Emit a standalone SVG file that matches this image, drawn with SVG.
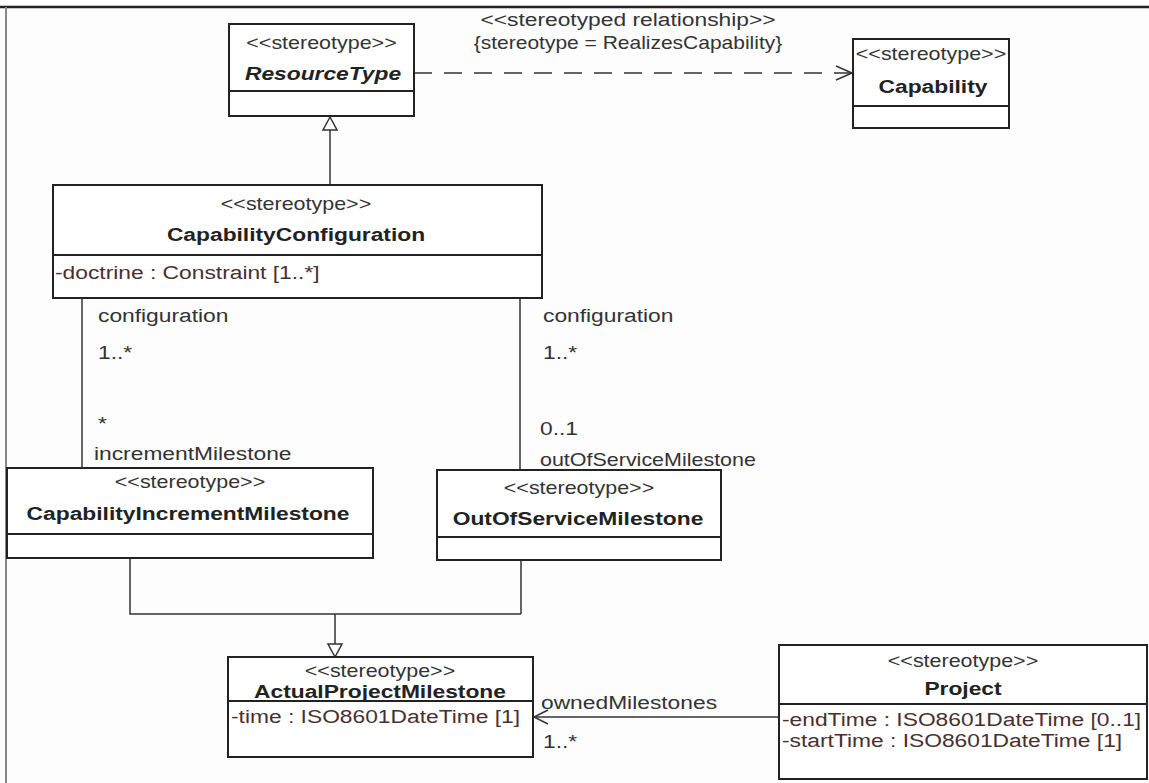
<svg xmlns="http://www.w3.org/2000/svg" width="1149" height="783" viewBox="0 0 1149 783">
<style>
.box{fill:#fff;stroke:#222;stroke-width:2}
.div{stroke:#222;stroke-width:2}
.ln{stroke:#333;stroke-width:1.5;fill:none}
.dash{stroke:#333;stroke-width:1.5;fill:none;stroke-dasharray:18 12}
.hd{fill:#fff;stroke:#333;stroke-width:1.5}
text{font-family:"Liberation Sans",Arial,sans-serif;font-size:19px}
.st{fill:#333;text-anchor:middle}
.nm{fill:#222;font-weight:bold;text-anchor:middle}
.at{fill:#4a2f2f;text-anchor:start}
.lb{fill:#333;text-anchor:start}
.sm{font-size:17.5px}
</style>
<rect x="0" y="0" width="1149" height="783" fill="#fdfdfd"/>
<line x1="0" y1="7" x2="1149" y2="7" stroke="#222" stroke-width="2.5"/>
<line x1="6" y1="7" x2="6" y2="783" stroke="#888" stroke-width="2"/>

<g id="connectors">
  <path class="dash" d="M414,73 H851"/>
  <path class="ln" d="M836,66 L852,73 L836,80"/>
  <text class="st" transform="matrix(1.2 0 0 1 628 26)" x="0" y="0">&lt;&lt;stereotyped relationship&gt;&gt;</text>
  <text class="st sm" transform="matrix(1.2 0 0 1 628 49)" x="0" y="0">{stereotype = RealizesCapability}</text>

  <path class="ln" d="M330,130 V185"/>
  <path class="hd" d="M330,117 L323,130 L337,130 Z"/>

  <path class="ln" d="M82,298 V468"/>
  <text class="lb" transform="matrix(1.2 0 0 1 98 322)" x="0" y="0">configuration</text>
  <text class="lb" transform="matrix(1.2 0 0 1 98 359)" x="0" y="0">1..*</text>
  <text class="lb" transform="matrix(1.2 0 0 1 98 430)" x="0" y="0">*</text>
  <text class="lb" transform="matrix(1.2 0 0 1 94 460)" x="0" y="0">incrementMilestone</text>

  <path class="ln" d="M520,298 V470"/>
  <text class="lb" transform="matrix(1.2 0 0 1 543 322)" x="0" y="0">configuration</text>
  <text class="lb" transform="matrix(1.2 0 0 1 543 359)" x="0" y="0">1..*</text>
  <text class="lb" transform="matrix(1.2 0 0 1 540 435)" x="0" y="0">0..1</text>
  <text class="lb" transform="matrix(1.13 0 0 1 540 466)" x="0" y="0">outOfServiceMilestone</text>

  <path class="ln" d="M130,558 V614 H521 M521,560 V614 M335,614 V644"/>
  <path class="hd" d="M335,657 L328,644 L342,644 Z"/>

  <path class="ln" d="M779,717 H534"/>
  <path class="ln" d="M548,710 L534,717 L548,724"/>
  <text class="lb" transform="matrix(1.2 0 0 1 541 709)" x="0" y="0">ownedMilestones</text>
  <text class="lb" transform="matrix(1.2 0 0 1 543 748)" x="0" y="0">1..*</text>
</g>

<g id="ResourceType">
  <rect class="box" x="229" y="24" width="185" height="92"/>
  <line class="div" x1="229" y1="91" x2="414" y2="91"/>
  <text class="st" transform="matrix(1.13 0 0 1 321.5 49)" x="0" y="0">&lt;&lt;stereotype&gt;&gt;</text>
  <text class="nm" font-style="italic" transform="matrix(1.2 0 0 1 323 80)" x="0" y="0">ResourceType</text>
</g>

<g id="Capability">
  <rect class="box" x="853" y="39" width="156" height="89"/>
  <line class="div" x1="853" y1="106" x2="1009" y2="106"/>
  <text class="st" transform="matrix(1.13 0 0 1 931 60)" x="0" y="0">&lt;&lt;stereotype&gt;&gt;</text>
  <text class="nm" transform="matrix(1.2 0 0 1 933 93)" x="0" y="0">Capability</text>
</g>

<g id="CapabilityConfiguration">
  <rect class="box" x="53" y="185" width="489" height="113"/>
  <line class="div" x1="53" y1="255" x2="542" y2="255"/>
  <text class="st" transform="matrix(1.13 0 0 1 296 210)" x="0" y="0">&lt;&lt;stereotype&gt;&gt;</text>
  <text class="nm" transform="matrix(1.2 0 0 1 296 241)" x="0" y="0">CapabilityConfiguration</text>
  <text class="at" transform="matrix(1.2 0 0 1 55 279)" x="0" y="0">-doctrine : Constraint [1..*]</text>
</g>

<g id="CapabilityIncrementMilestone">
  <rect class="box" x="7" y="468" width="366" height="90"/>
  <line class="div" x1="7" y1="534" x2="373" y2="534"/>
  <text class="st" transform="matrix(1.13 0 0 1 190 488)" x="0" y="0">&lt;&lt;stereotype&gt;&gt;</text>
  <text class="nm" transform="matrix(1.2 0 0 1 188 520)" x="0" y="0">CapabilityIncrementMilestone</text>
</g>

<g id="OutOfServiceMilestone">
  <rect class="box" x="437" y="470" width="284" height="90"/>
  <line class="div" x1="437" y1="537" x2="721" y2="537"/>
  <text class="st" transform="matrix(1.13 0 0 1 579 494)" x="0" y="0">&lt;&lt;stereotype&gt;&gt;</text>
  <text class="nm" transform="matrix(1.2 0 0 1 578 525)" x="0" y="0">OutOfServiceMilestone</text>
</g>

<g id="ActualProjectMilestone">
  <rect class="box" x="228" y="657" width="305" height="100"/>
  <line class="div" x1="228" y1="701" x2="533" y2="701"/>
  <text class="st" transform="matrix(1.13 0 0 1 380 677)" x="0" y="0">&lt;&lt;stereotype&gt;&gt;</text>
  <text class="nm" transform="matrix(1.2 0 0 1 380 698)" x="0" y="0">ActualProjectMilestone</text>
  <text class="at" transform="matrix(1.2 0 0 1 231 723)" x="0" y="0">-time : ISO8601DateTime [1]</text>
</g>

<g id="Project">
  <rect class="box" x="779" y="645" width="368" height="134"/>
  <line class="div" x1="779" y1="704" x2="1147" y2="704"/>
  <text class="st" transform="matrix(1.13 0 0 1 963 667)" x="0" y="0">&lt;&lt;stereotype&gt;&gt;</text>
  <text class="nm" transform="matrix(1.2 0 0 1 963 695)" x="0" y="0">Project</text>
  <text class="at" transform="matrix(1.2 0 0 1 782 726)" x="0" y="0">-endTime : ISO8601DateTime [0..1]</text>
  <text class="at" transform="matrix(1.2 0 0 1 782 747)" x="0" y="0">-startTime : ISO8601DateTime [1]</text>
</g>
</svg>
